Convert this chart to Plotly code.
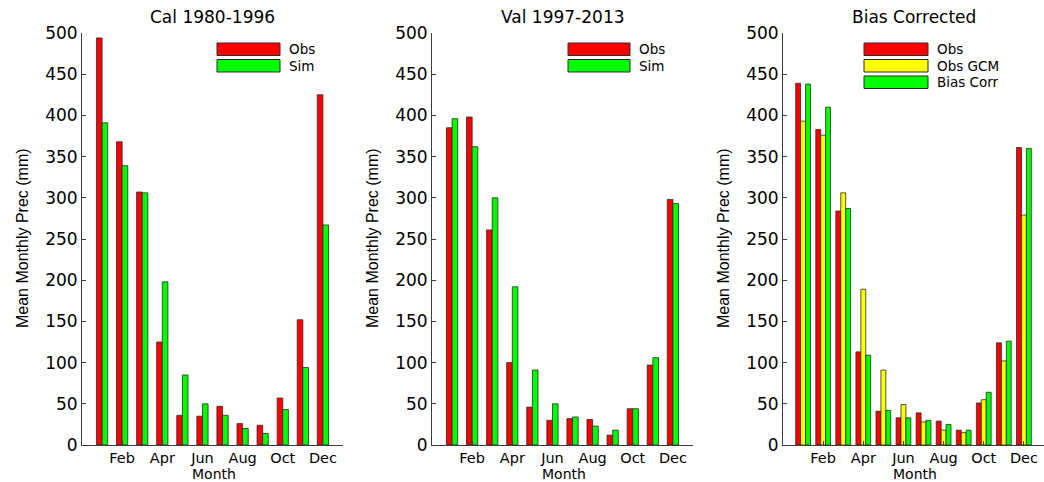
import plotly.graph_objects as go

# Month positions and axis labels
months = list(range(1, 13))
tick_vals = [2, 4, 6, 8, 10, 12]
tick_text = ["Feb", "Apr", "Jun", "Aug", "Oct", "Dec"]

# Calibration period 1980-1996 (mm)
cal_obs = [494, 368, 307, 125, 36, 35, 47, 26, 24, 57, 152, 425]
cal_sim = [391, 339, 306, 198, 85, 50, 36, 20, 14, 43, 94, 267]

# Validation period 1997-2013 (mm)
val_obs = [385, 398, 261, 100, 46, 30, 32, 31, 12, 44, 97, 298]
val_sim = [396, 362, 300, 192, 91, 50, 34, 23, 18, 44, 106, 293]

# Bias correction (mm)
bc_obs = [439, 383, 284, 113, 41, 33, 39, 29, 18, 51, 124, 361]
bc_gcm = [393, 376, 306, 189, 91, 49, 28, 18, 15, 55, 102, 279]
bc_corr = [438, 410, 287, 109, 42, 33, 30, 25, 18, 64, 126, 360]

RED, GREEN, YELLOW = "#ff0000", "#00ff00", "#ffff00"
EDGE = "#2a2a2a"
W, H = 1044, 482
Y_TICK_FONT = dict(family="DejaVu Sans", size=17, color="black")
X_TICK_FONT = dict(family="DejaVu Sans", size=14.5, color="black")
AXIS_COLOR = "#3c3c3c"

# panel geometry in pixels: (left, right) of each axis, shared top/bottom
panels_px = [(82, 343), (432, 693), (783, 1044)]
top_px, bottom_px = 33, 445


def px_x(x):
    return x / W


def px_y(y):
    return (H - y) / H


panels = [
    dict(title="Cal 1980-1996",
         series=[("Obs", cal_obs, RED), ("Sim", cal_sim, GREEN)],
         bar_w=0.28, legend_x=(217, 280, 287)),
    dict(title="Val 1997-2013",
         series=[("Obs", val_obs, RED), ("Sim", val_sim, GREEN)],
         bar_w=0.28, legend_x=(568, 630, 637)),
    dict(title="Bias Corrected",
         series=[("Obs", bc_obs, RED), ("Obs GCM", bc_gcm, YELLOW),
                 ("Bias Corr", bc_corr, GREEN)],
         bar_w=0.245, legend_x=(864, 928, 935)),
]

fig = go.Figure()
shapes, annotations = [], []


def label(text, x, y, size, xanchor="center", family="DejaVu Sans", **kw):
    annotations.append(dict(text=text, x=px_x(x), y=px_y(y), xref="paper",
                            yref="paper", xanchor=xanchor, yanchor="middle",
                            showarrow=False,
                            font=dict(family=family, size=size, color="black"),
                            **kw))


for i, p in enumerate(panels):
    n = i + 1
    xa = "x" if n == 1 else f"x{n}"
    ya = "y" if n == 1 else f"y{n}"
    k = len(p["series"])
    w = p["bar_w"]
    for j, (name, vals, color) in enumerate(p["series"]):
        fig.add_trace(go.Bar(
            x=months, y=vals, name=name, width=w, offset=-k * w / 2 + j * w,
            marker=dict(color=color, line=dict(color=EDGE, width=0.8)),
            xaxis=xa, yaxis=ya, showlegend=False,
        ))

    left, right = panels_px[i]
    axis_common = dict(showgrid=False, zeroline=False, showline=True,
                       linecolor=AXIS_COLOR, linewidth=1, ticks="inside",
                       ticklen=4, tickcolor=AXIS_COLOR, automargin=False)
    fig.update_layout(**{
        ("xaxis" if n == 1 else f"xaxis{n}"): dict(
            domain=[px_x(left), px_x(right)], range=[0, 13],
            tickvals=tick_vals, ticktext=tick_text, anchor=ya,
            tickfont=X_TICK_FONT, ticklabelstandoff=0, **axis_common),
        ("yaxis" if n == 1 else f"yaxis{n}"): dict(
            domain=[px_y(bottom_px), px_y(top_px)], range=[0, 500],
            dtick=50, anchor=xa, tickfont=Y_TICK_FONT, **axis_common),
    })

    mid = (left + right) / 2
    label(p["title"], mid, 17, 17)
    label("Month", mid + 1, 473.5, 14)
    label("Mean Monthly Prec (mm)", left - 60, 238, 16, textangle=-90,
          family="Liberation Sans Narrow, Liberation Sans")

    # legend: wide swatches with labels
    sx0, sx1, tx = p["legend_x"]
    for j, (name, _, color) in enumerate(p["series"]):
        ry0 = 43 + 16.5 * j
        ry1 = ry0 + 12.5
        shapes.append(dict(type="rect", xref="paper", yref="paper",
                           x0=px_x(sx0), x1=px_x(sx1), y0=px_y(ry1), y1=px_y(ry0),
                           fillcolor=color, line=dict(color=EDGE, width=1)))
        label(name, tx, (ry0 + ry1) / 2, 13.5, xanchor="left")

fig.update_layout(
    width=W, height=H, margin=dict(l=0, r=0, t=0, b=0),
    paper_bgcolor="white", plot_bgcolor="white",
    barmode="overlay", shapes=shapes, annotations=annotations,
)

fig.write_html("out.html")
